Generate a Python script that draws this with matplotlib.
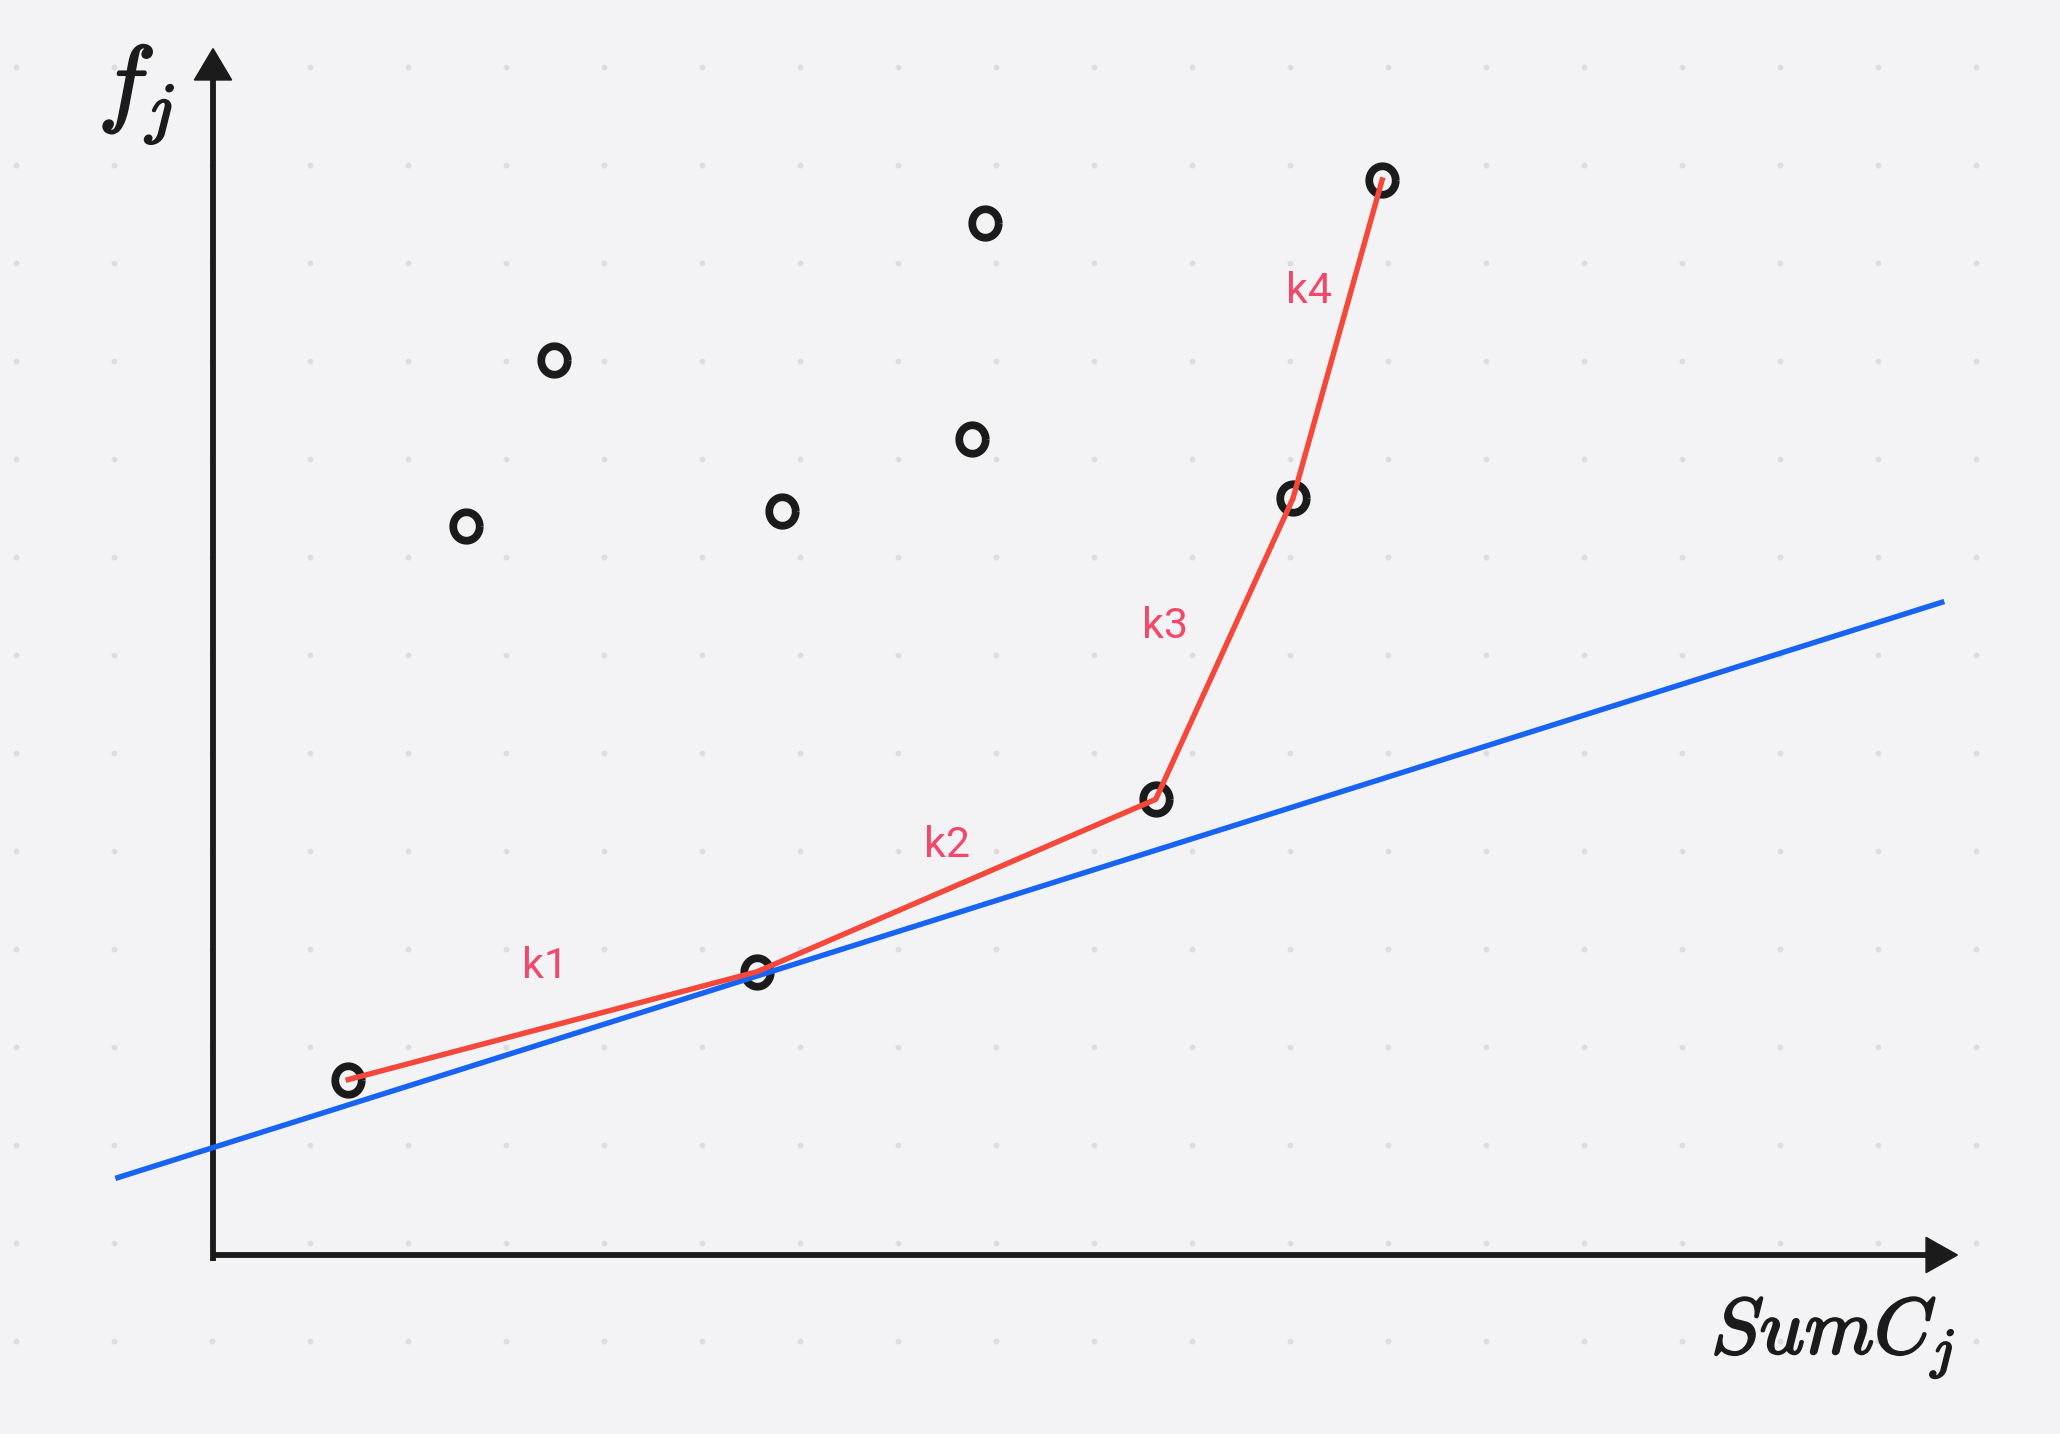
import numpy as np
import matplotlib
matplotlib.use("Agg")
import matplotlib.pyplot as plt
import matplotlib.patheffects as pe
from matplotlib.path import Path
from matplotlib.patches import Polygon

plt.rcParams["mathtext.fontset"] = "cm"

# points (1 unit = one grid step), origin at the axis corner
pts_x = [1.38, 2.58, 3.48, 5.55, 5.81, 7.74, 7.88, 9.62, 11.02, 11.93]
pts_y = [1.79, 7.44, 9.13, 2.89, 7.59, 8.33, 10.53, 4.65, 7.72, 10.97]

# lower hull (red polyline)
hull_x = [1.38, 5.55, 9.62, 11.02, 11.93]
hull_y = [1.79, 2.89, 4.65, 7.72, 10.97]

# supporting line (blue)
line_x = [-0.97, 17.64]
line_y = [0.79, 6.66]

labels = ["k1", "k2", "k3", "k4"]
label_x = [3.39, 7.49, 9.71, 11.18]
label_y = [2.94, 4.18, 6.41, 9.83]

bg = "#f3f3f5"
dark = "#1b1b1b"

fig = plt.figure(figsize=(20.6, 14.34), dpi=100, facecolor=bg)
ax = fig.add_axes([0, 0, 1, 1])
ax.set_facecolor(bg)
ax.set_xlim(-213 / 98, (2060 - 213) / 98)
ax.set_ylim(-(1434 - 1255) / 98, 1255 / 98)
ax.axis("off")

# dot grid background
gx, gy = np.meshgrid(-2.01 + np.arange(21), 12.12 - np.arange(14))
ax.scatter(gx.ravel(), gy.ravel(), s=18, color="#dddde1", linewidths=0, zorder=0)

# axes with arrow heads
ax.plot([0, 0], [-0.06, 12.0], color=dark, lw=4.2, solid_capstyle="butt", zorder=2)
ax.plot([0, 17.5], [0, 0], color=dark, lw=4.2, solid_capstyle="butt", zorder=2)
ax.add_patch(Polygon([[0, 12.31], [-0.19, 11.99], [0.19, 11.99]], color=dark, zorder=2))
ax.add_patch(Polygon([[17.8, 0], [17.48, 0.18], [17.48, -0.18]], color=dark, zorder=2))

bold = [pe.withStroke(linewidth=1.6, foreground=dark)]
ax.text(-0.78, 11.84, r"$f_j$", fontsize=70, ha="center", va="center", color=dark,
        path_effects=bold)
ax.text(16.53, -0.85, r"$SumC_j$", fontsize=57, ha="center", va="center", color=dark,
        path_effects=bold)

# nearly round ellipse marker
t = np.linspace(0, 2 * np.pi, 60)
ell = Path(np.column_stack([0.93 * np.cos(t), np.sin(t)]))
ax.plot(pts_x, pts_y, ls="none", marker=ell, ms=20.5, mfc="none", mec=dark, mew=5.6, zorder=3)

ax.plot(line_x, line_y, color="#1763f4", lw=3.9, zorder=4)
ax.plot(hull_x, hull_y, color="#f5483b", lw=3.9, zorder=5)

for lab, lx, ly in zip(labels, label_x, label_y):
    ax.text(lx, ly, lab, fontsize=31, family="Roboto", color="#f4486a",
            ha="center", va="center")

fig.savefig("out.png", dpi=100, facecolor=bg)
